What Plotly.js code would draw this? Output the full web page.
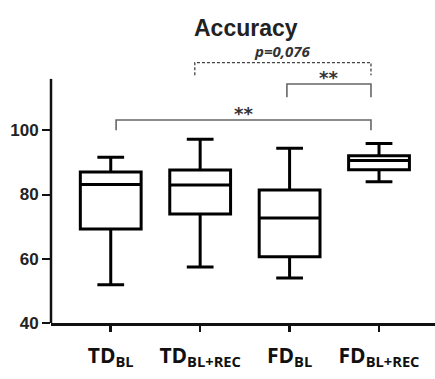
<!DOCTYPE html>
<html>
<head>
<meta charset="utf-8">
<script src="https://cdn.plot.ly/plotly-3.0.1.min.js"></script>
<style>html,body{margin:0;padding:0;background:#fff;}#chart{width:435px;height:379px;}</style>
</head>
<body>
<div id="chart"></div>
<script>
// ---- data ----
const categories = ["TD<sub>BL</sub>", "TD<sub>BL+REC</sub>", "FD<sub>BL</sub>", "FD<sub>BL+REC</sub>"];
const lowerWhisker = [51.9, 57.4, 54.0, 84.0];
const q1Values     = [69.3, 73.9, 60.6, 87.7];
const medianValues = [83.1, 83.0, 72.7, 90.6];
const q3Values     = [87.0, 87.6, 81.4, 92.1];
const upperWhisker = [91.6, 97.2, 94.4, 95.9];
const yTicks = [40, 60, 80, 100];
const comparisons = [
  {from: 1, to: 3, label: "p=0,076", dashed: true},
  {from: 2, to: 3, label: "**", dashed: false},
  {from: 0, to: 3, label: "**", dashed: false}
];
// ---- layout constants (positions, not data) ----
const bracketTop = [121.1, 114.4, 103.2];
const bracketLeg = [117.1, 110.3, 100.0];
const xOffL = [-0.06, -0.03, 0.06];
const xOffR = -0.09;

const trace = {
  type: "box",
  x: categories,
  q1: q1Values, median: medianValues, q3: q3Values,
  lowerfence: lowerWhisker, upperfence: upperWhisker,
  fillcolor: "#ffffff",
  line: {color: "#000000", width: 3},
  width: 0.68,
  whiskerwidth: 0.44,
  boxpoints: false,
  hoverinfo: "skip",
  showlegend: false
};

const shapes = [];
const annotations = [];
comparisons.forEach((c, i) => {
  const x0 = c.from + xOffL[i];
  const x1 = c.to + xOffR;
  const col = c.dashed ? "#444" : "#666";
  const dash = c.dashed ? "3px,2px" : "solid";
  const w = c.dashed ? 1.3 : 1.6;
  shapes.push({type: "path", xref: "x", yref: "y",
    path: `M ${x0},${bracketLeg[i]} L ${x0},${bracketTop[i]} L ${x1},${bracketTop[i]} L ${x1},${bracketLeg[i]}`,
    line: {color: col, width: w, dash: dash}});
  annotations.push({xref: "x", yref: "y", x: (x0 + x1) / 2, y: bracketTop[i],
    yanchor: "bottom", showarrow: false, yshift: c.dashed ? 0 : -6,
    text: c.dashed ? "<b><i>" + c.label + "</i></b>" : "<b>" + c.label + "</b>",
    font: {family: c.dashed ? "Open Sans" : "DejaVu Sans", size: c.dashed ? 15 : 18, color: "#333"}});
});
// y axis line as shape (stops below the brackets)
shapes.push({type: "line", xref: "paper", yref: "y", x0: 0, x1: 0, y0: 40, y1: 116,
  line: {color: "#111", width: 2.5}});

const layout = {
  width: 435, height: 379,
  margin: {l: 51, r: 0, t: 50, b: 56},
  paper_bgcolor: "#fff", plot_bgcolor: "#fff",
  title: {text: "<b>Accuracy</b>", font: {family: "Liberation Sans", size: 23, color: "#222"},
    x: 0.565, xref: "container", y: 0.927, yref: "container", xanchor: "center", yanchor: "middle"},
  xaxis: {type: "category", range: [-0.668, 3.626], showline: true, linecolor: "#111", linewidth: 2.5,
    ticks: "outside", ticklen: 6, tickwidth: 2.5, tickcolor: "#111", showgrid: false, zeroline: false,
    tickvals: categories, ticktext: categories.map(s => "<b>" + s + "</b>"),
    tickfont: {family: "Open Sans", size: 21, color: "#111"}, ticklabelstandoff: 6},
  yaxis: {range: [40, 125], showline: false, ticks: "outside", ticklen: 8, tickwidth: 2, tickcolor: "#111",
    tickvals: yTicks, ticktext: yTicks.map(v => "<b>" + v + "</b>"), showgrid: false, zeroline: false,
    tickfont: {family: "Liberation Sans", size: 17, color: "#222"}},
  shapes: shapes,
  annotations: annotations
};

Plotly.newPlot("chart", [trace], layout, {displayModeBar: false, staticPlot: true});
</script>
</body>
</html>
